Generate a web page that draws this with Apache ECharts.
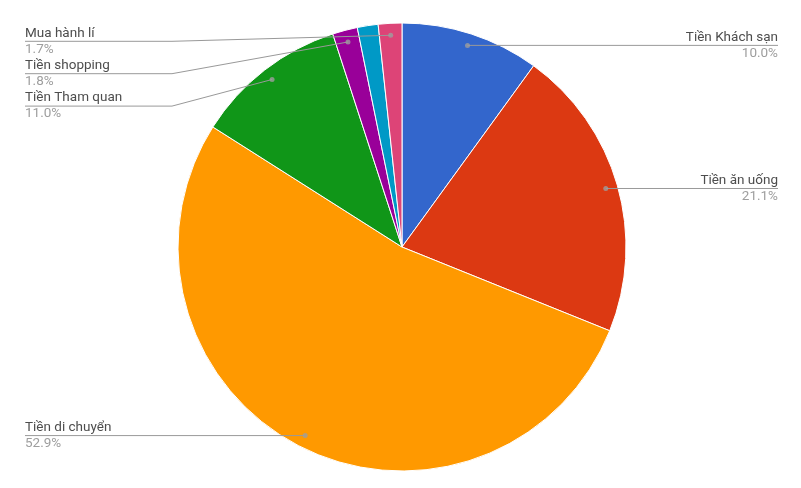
<!DOCTYPE html>
<html><head><meta charset="utf-8">
<script src="https://cdn.jsdelivr.net/npm/echarts@6/dist/echarts.min.js"></script>
<style>html,body{margin:0;padding:0;background:#fff}#c{width:801px;height:488px}</style>
</head><body><div id="c"></div>
<script>
const categories = ['Tiền Khách sạn','Tiền ăn uống','Tiền di chuyển','Tiền Tham quan','Tiền shopping','Khác','Mua hành lí'];
const values = [10.0, 21.1, 52.9, 11.0, 1.8, 1.5, 1.7];
const showLabel = [true, true, true, true, true, false, true];
const colors = ['#3366cc','#dc3912','#ff9900','#109618','#990099','#0099c6','#dd4477'];

const CX = 402, CY = 247, R = 224, DOT = 212;
const total = values.reduce((a, b) => a + b, 0);
let cum = 0;
const mids = values.map(v => { const m = cum + v / 2; cum += v; return m / total; });
const info = mids.map(m => {
  const a = m * 2 * Math.PI;
  const dx = Math.sin(a), dy = -Math.cos(a);
  return { dx, dy, left: dx < 0, px: CX + DOT * dx, py: CY + DOT * dy };
});
info.forEach(o => { o.y = o.py; });
const leftIdx = info.map((o, i) => i).filter(i => showLabel[i] && info[i].left).sort((a, b) => info[a].py - info[b].py);
const GAP = 32.4;
let prev = 41.3 - GAP;
leftIdx.forEach(i => { info[i].y = Math.max(info[i].py, prev + GAP); prev = info[i].y; });

const pieBase = {
  type: 'pie',
  center: [CX, CY],
  radius: [0, R],
  startAngle: 90,
  clockwise: true,
  avoidLabelOverlap: false,
  emphasis: { disabled: true },
  silent: true
};

const chart = echarts.init(document.getElementById('c'), null, { renderer: 'canvas' });
chart.setOption({
  animation: false,
  backgroundColor: '#fff',
  polar: { center: [CX, CY], radius: R },
  angleAxis: { type: 'value', min: 0, max: 1, startAngle: 90, clockwise: true, show: false },
  radiusAxis: { type: 'value', min: 0, max: R, show: false },
  series: [Object.assign({}, pieBase, {
    z: 2,
    itemStyle: { borderColor: '#fff', borderWidth: 1 },
    label: { show: false },
    labelLine: { show: false },
    data: categories.map((n, i) => ({ name: n, value: values[i], itemStyle: { color: colors[i] } }))
  }), Object.assign({}, pieBase, {
    z: 4,
    itemStyle: { color: 'rgba(0,0,0,0)', borderWidth: 0 },
    data: categories.map((n, i) => ({
      name: n, value: values[i],
      label: { show: showLabel[i] },
      labelLine: { show: showLabel[i] }
    })),
    label: {
      position: 'outside',
      formatter: p => '{n|' + p.name + '}\n{p|' + values[p.dataIndex].toFixed(1) + '%}',
      rich: {
        n: { fontFamily: 'Roboto', fontSize: 13.5, color: '#4d4d4d', lineHeight: 16 },
        p: { fontFamily: 'Roboto', fontSize: 13.5, color: '#9e9e9e', lineHeight: 16 }
      }
    },
    labelLine: { show: true, length: 10, length2: 10, lineStyle: { color: '#999', width: 1 } },
    labelLayout: params => {
      const i = params.dataIndex;
      const o = info[i];
      if (!showLabel[i]) return {};
      if (o.left) {
        return { x: 25, y: o.y, align: 'left', verticalAlign: 'middle',
          labelLinePoints: [[o.px, o.py], [Math.min(172, o.px), o.y], [25, o.y]] };
      }
      return { x: 778, y: o.y, align: 'right', verticalAlign: 'middle',
        labelLinePoints: [[o.px, o.py], [o.px, o.y], [778, o.y]] };
    }
  }), {
    type: 'scatter',
    coordinateSystem: 'polar',
    symbol: 'circle',
    symbolSize: 5,
    silent: true,
    z: 6,
    itemStyle: { color: '#9e9e9e' },
    data: mids.map((m, i) => showLabel[i] ? [DOT, m] : null).filter(d => d)
  }]
});
</script></body></html>
